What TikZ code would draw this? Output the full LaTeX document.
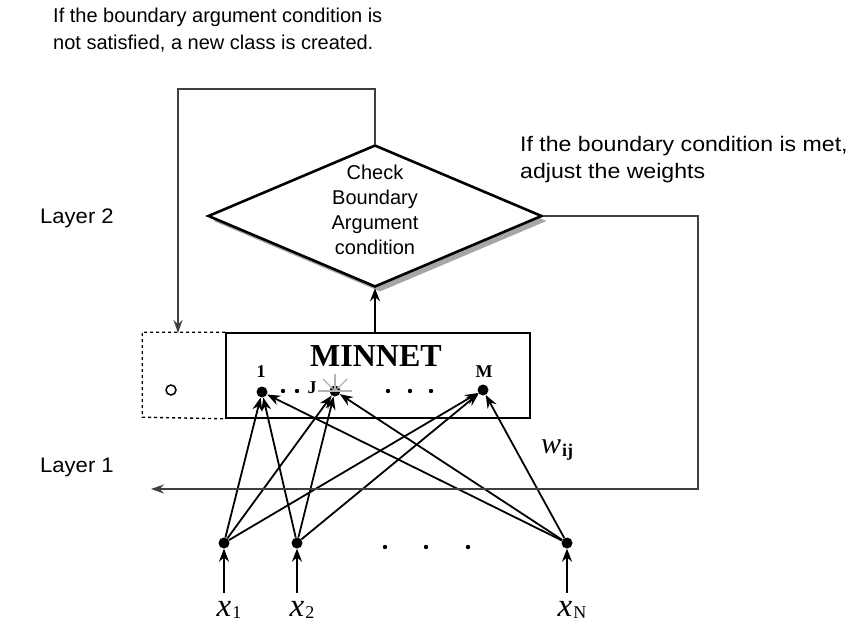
\documentclass[tikz,border=0pt]{standalone}
\usepackage{fontspec}
\setsansfont{Liberation Sans}
\newfontfamily\minfont{Liberation Serif}
\newcommand\invar[3]{{\minfont\fontsize{#1}{#1}\selectfont\itshape #2}\kern1pt\raisebox{-0.28em}{\minfont\fontsize{18}{18}\selectfont #3}}
\usetikzlibrary{shapes.geometric,arrows.meta,shadows}
\begin{document}
\begin{tikzpicture}[x=1pt,y=-1pt,
  note/.style={font=\sffamily\fontsize{20}{27}\selectfont,align=left,inner sep=0},
  dot/.style={circle,fill,inner sep=0,minimum size=11pt},
  conn/.style={line width=1.8pt,-{Stealth[length=13pt,width=10pt]}},
  fb/.style={draw=black!75,line width=1.8pt,-{Stealth[length=13pt,width=9pt]}},
  unit/.style={font=\minfont\bfseries\fontsize{18}{18}\selectfont,inner sep=0},
  inlab/.style={inner sep=0}]
\useasboundingbox (0,0) rectangle (861,628);
\node[note,anchor=north west] (fail) at (53,8) {If the boundary argument condition is\\not satisfied, a new class is created.};
\node[note,anchor=north west,font=\sffamily\fontsize{21}{27}\selectfont\addfontfeatures{FakeStretch=1.1}] (met) at (520,136) {If the boundary condition is met,\\adjust the weights};
\node[note,anchor=west,font=\sffamily\fontsize{21}{27}\selectfont\addfontfeatures{FakeStretch=1.05}] (lay2) at (40,218) {Layer 2};
\node[note,anchor=west,font=\sffamily\fontsize{21}{27}\selectfont\addfontfeatures{FakeStretch=1.05}] (lay1) at (40,467) {Layer 1};

\node[diamond,draw,fill=white,line width=2.6pt,minimum width=334pt,minimum height=142pt,inner sep=0,
  drop shadow={shadow xshift=5pt,shadow yshift=-5pt,fill=black!35,opacity=1}] (chk) at (375,216) {};
\node[font=\sffamily\fontsize{20}{25}\selectfont,align=center] (chktxt) at ([yshift=6pt]chk.center) {Check\\Boundary\\Argument\\condition};

\node[draw,line width=1.6pt,minimum width=304pt,minimum height=85pt,inner sep=0] (minnet) at (378,375.5) {};
\node[font=\minfont\bfseries\fontsize{32}{32}\selectfont] (title) at (376,356) {MINNET};
\draw[line width=1.4pt,dash pattern=on 3pt off 3pt] (minnet.north west) -- ++(-83,0) -- ++(0,85) -- (minnet.south west);
\node[circle,draw,line width=1.5pt,minimum size=10pt,inner sep=0] (newnode) at (171,390) {};

\node[dot] (n1) at (262,392) {};
\node[dot] (nJ) at (335,391) {};
\node[dot] (nM) at (483,390) {};
\foreach \a in {0,-45,-90,-135,180}
  \draw[black!30,line width=1.2pt] (nJ.center) -- ++(\a:17);
\node[unit] (lab1) at (261,372) {1};
\node[unit] (labJ) at (312,388) {J};
\node[unit] (labM) at (484,372) {M};
\foreach \x in {283,297,388,410,431}
  \fill (\x,391) circle (2.2);

\foreach \n/\x/\s in {i1/224/1,i2/297/2,iN/567/N} {
  \node[dot] (\n) at (\x,543) {};
  \coordinate (s\n) at (\x,593);
  \draw[conn] (s\n) -- (\n);
  \node[inlab] (x\n) at (\x+5,610) {\invar{33}{x}{\s}};
}
\foreach \x in {385,426,468}
  \fill (\x,547) circle (2.2);

\foreach \i in {i1,i2,iN}
  \foreach \o in {n1,nJ,nM}
    \draw[conn] (\i) -- (\o);
\node[inlab] (wij) at (557,450) {\invar{30}{w}{\bfseries ij}};

\draw[conn] (chk.south |- minnet.north) -- (chk.south);
\coordinate (topL) at (178,89);
\coordinate (newcls) at (178,333);
\draw[fb] (chk.north) |- (topL) -- (newcls);
\coordinate (rtB) at (698,489);
\coordinate (back) at (151,489);
\draw[fb] (chk.east) -| (rtB) -- (back);
\end{tikzpicture}
\end{document}
